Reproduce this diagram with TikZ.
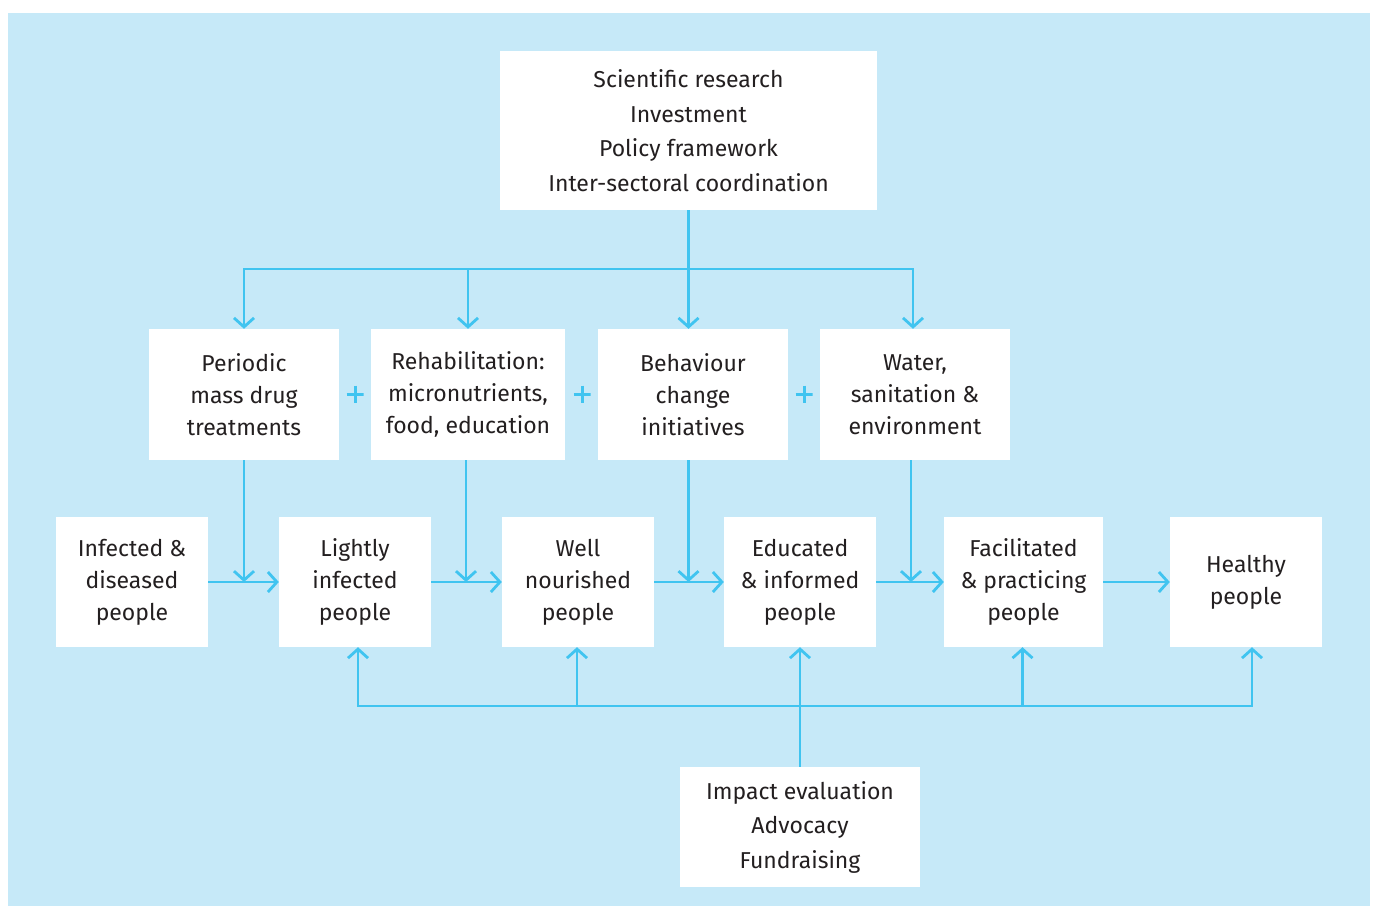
\documentclass[tikz,border=0pt]{standalone}
\usepackage{fontspec}
\setmainfont{Fira Sans}
\usetikzlibrary{arrows.meta}
\definecolor{paleBlue}{RGB}{198,233,248}
\definecolor{lineBlue}{RGB}{64,196,240}
\definecolor{inkGrey}{RGB}{35,31,32}
\begin{document}
\begin{tikzpicture}[x=1pt, y=-1pt,
    boxStyle/.style={rectangle, fill=white, inner sep=0pt, align=center, text=inkGrey, font=\fontsize{23}{32}\selectfont},
    topStyle/.style={boxStyle, font=\fontsize{23}{34.5}\selectfont},
    plusStyle/.style={minimum size=17pt, inner sep=0pt, path picture={
        \draw[lineBlue, line width=3pt] (path picture bounding box.north) -- (path picture bounding box.south)
            (path picture bounding box.west) -- (path picture bounding box.east);}},
    flowStyle/.style={draw=lineBlue, line width=2.8pt},
    ->/.style={flowStyle, -{Straight Barb[length=9pt, width=20pt]}}]
    \useasboundingbox (0,0) rectangle (1375,906);
    \fill[paleBlue] (8,13) rectangle (1370,906);

    % inputs
    \node[topStyle, minimum width=377, minimum height=159] (top_0) at (688.5, 130.5) {Scientific research\\Investment\\Policy framework\\Inter-sectoral coordination};

    % interventions
    \node[boxStyle, minimum width=190, minimum height=131] (mid_0) at (244, 394.5) {Periodic\\mass drug\\treatments};
    \node[boxStyle, minimum width=194, minimum height=131] (mid_1) at (468, 394.5) {Rehabilitation:\\micronutrients,\\food, education};
    \node[boxStyle, minimum width=190, minimum height=131] (mid_2) at (693, 394.5) {Behaviour\\change\\initiatives};
    \node[boxStyle, minimum width=190, minimum height=131] (mid_3) at (915, 394.5) {Water,\\sanitation \&\\environment};

    \node[plusStyle] (plus_0) at (355, 394) {};
    \node[plusStyle] (plus_1) at (582, 394) {};
    \node[plusStyle] (plus_2) at (804, 394) {};

    % people
    \node[boxStyle, minimum width=152, minimum height=130] (low_0) at (132, 582) {Infected \&\\diseased\\people};
    \node[boxStyle, minimum width=152, minimum height=130] (low_1) at (355, 582) {Lightly\\infected\\people};
    \node[boxStyle, minimum width=152, minimum height=130] (low_2) at (578, 582) {Well\\nourished\\people};
    \node[boxStyle, minimum width=152, minimum height=130] (low_3) at (800, 582) {Educated\\\& informed\\people};
    \node[boxStyle, minimum width=159, minimum height=130] (low_4) at (1023.5, 582) {Facilitated\\\& practicing\\people};
    \node[boxStyle, minimum width=152, minimum height=130] (low_5) at (1246, 582) {Healthy\\people};

    % support
    \node[topStyle, minimum width=240, minimum height=120] (eval_0) at (800, 827) {Impact evaluation\\Advocacy\\Fundraising};

    \coordinate (split_T) at (688.5, 269);
    \coordinate (split_B) at (800, 706);

    \draw[flowStyle] (top_0.south) -- (split_T);
    \draw[->] (split_T) -| (mid_0.north);
    \draw[->] (split_T) -| (mid_1.north);
    \draw[->] (split_T) -- (split_T |- mid_2.north);
    \draw[->] (split_T) -| ([xshift=-2pt]mid_3.north);

    \draw[->] (low_0.east) -- (low_1.west);
    \draw[->] (low_1.east) -- (low_2.west);
    \draw[->] (low_2.east) -- (low_3.west);
    \draw[->] (low_3.east) -- (low_4.west);
    \draw[->] (low_4.east) -- (low_5.west);

    \draw[->] (mid_0.south) -- (mid_0.south |- low_0.east);
    \draw[->] ([xshift=-2pt]mid_1.south) -- ([xshift=-2pt]mid_1.south |- low_1.east);
    \draw[->] (top_0.south |- mid_2.south) -- (top_0.south |- low_2.east);
    \draw[->] ([xshift=-4pt]mid_3.south) -- ([xshift=-4pt]mid_3.south |- low_3.east);

    \draw[->] (eval_0.north) -- (low_3.south);
    \draw[->] (split_B) -| ([xshift=3pt]low_1.south);
    \draw[->] (split_B) -| ([xshift=-1pt]low_2.south);
    \draw[->] (split_B) -| ([xshift=-1pt]low_4.south);
    \draw[->] (split_B) -| ([xshift=6pt]low_5.south);
\end{tikzpicture}
\end{document}
